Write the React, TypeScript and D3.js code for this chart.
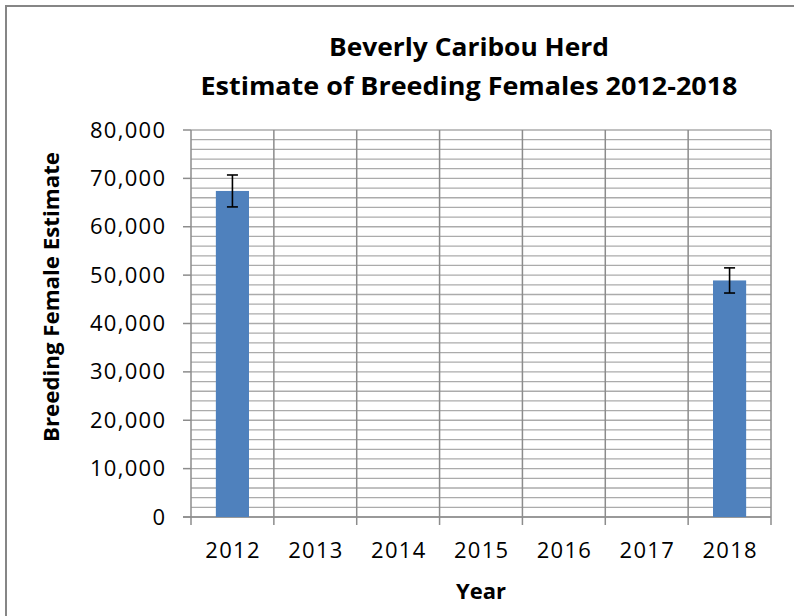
import React from 'react';
import * as d3 from 'd3';

const years = ['2012', '2013', '2014', '2015', '2016', '2017', '2018'];
const estimates: (number | null)[] = [67400, null, null, null, null, null, 48900];
const errors: (number | null)[] = [3300, null, null, null, null, null, 2600];
const yTicks = [0, 10000, 20000, 30000, 40000, 50000, 60000, 70000, 80000];
const minorStep = 2000;
const titleLines = ['Beverly Caribou Herd', 'Estimate of Breeding Females 2012-2018'];
const yTitle = 'Breeding Female Estimate';
const xTitle = 'Year';

const W = 794;
const H = 616;
const left = 191;
const right = 771;
const top = 130;
const bottom = 517;
const font = '"Open Sans", "Liberation Sans", sans-serif';

export default function App() {
  const x = d3.scaleBand<string>().domain(years).range([left, right]).paddingInner(0).paddingOuter(0);
  const y = d3.scaleLinear().domain([0, 80000]).range([bottom, top]);
  const fmt = d3.format(',');
  const minor = d3.range(0, 80000 + 1, minorStep);
  const bw = x.bandwidth();
  const barW = bw / 2.5;
  const boundaries = years.map((d) => x(d) as number).concat([right]);
  const ls = 1.3;

  return (
    <svg width={W} height={H} style={{ position: 'absolute', left: 0, top: 0 }} fontFamily={font}>
      <rect x={0} y={0} width={W} height={H} fill="#fff" />
      <rect x={6} y={6} width={W + 20} height={H + 20} fill="#fff" stroke="#868686" strokeWidth={2} />
      {titleLines.map((t, i) => (
        <text
          key={t}
          x={469}
          y={56 + i * 39}
          textAnchor="middle"
          fontWeight="bold"
          fontSize={25.5}
          fill="#000"
          textLength={i === 0 ? 280 : 537}
          lengthAdjust="spacingAndGlyphs"
        >
          {t}
        </text>
      ))}
      {minor.map((v) => (
        <line key={'m' + v} x1={left} x2={right} y1={y(v)} y2={y(v)} stroke="#ababab" strokeWidth={1.3} />
      ))}
      {boundaries.map((bx, i) => (
        <line key={'v' + i} x1={bx} x2={bx} y1={top} y2={bottom + 8} stroke="#8c8c8c" strokeWidth={1.5} />
      ))}
      {yTicks.map((v) => (
        <g key={'t' + v}>
          <line x1={left - 8} x2={left} y1={y(v)} y2={y(v)} stroke="#8c8c8c" strokeWidth={1.5} />
          <text x={165 + ls} y={y(v) + 7.5} textAnchor="end" fontSize={22} letterSpacing={ls} fill="#000">
            {fmt(v)}
          </text>
        </g>
      ))}
      <line x1={left - 8} x2={right} y1={bottom} y2={bottom} stroke="#8c8c8c" strokeWidth={1.5} />
      {years.map((yr, i) => {
        const v = estimates[i];
        const e = errors[i];
        const cx = (x(yr) as number) + bw / 2;
        return (
          <g key={yr}>
            {v !== null && (
              <rect x={cx - barW / 2} y={y(v)} width={barW} height={bottom - y(v)} fill="#4f81bd" />
            )}
            {v !== null && e !== null && (
              <g stroke="#000" strokeWidth={1.6}>
                <line x1={cx} x2={cx} y1={y(v + e)} y2={y(v - e)} />
                <line x1={cx - 5.5} x2={cx + 5.5} y1={y(v + e)} y2={y(v + e)} />
                <line x1={cx - 5.5} x2={cx + 5.5} y1={y(v - e)} y2={y(v - e)} />
              </g>
            )}
            <text x={cx + ls / 2} y={558} textAnchor="middle" fontSize={22} letterSpacing={ls} fill="#000">
              {yr}
            </text>
          </g>
        );
      })}
      <text
        x={481}
        y={599}
        textAnchor="middle"
        fontWeight="bold"
        fontSize={21}
        fill="#000"
        textLength={50}
        lengthAdjust="spacingAndGlyphs"
      >
        {xTitle}
      </text>
      <text
        transform={`translate(59,297) rotate(-90)`}
        textAnchor="middle"
        fontWeight="bold"
        fontSize={20.5}
        fill="#000"
        textLength={290}
        lengthAdjust="spacingAndGlyphs"
      >
        {yTitle}
      </text>
    </svg>
  );
}
